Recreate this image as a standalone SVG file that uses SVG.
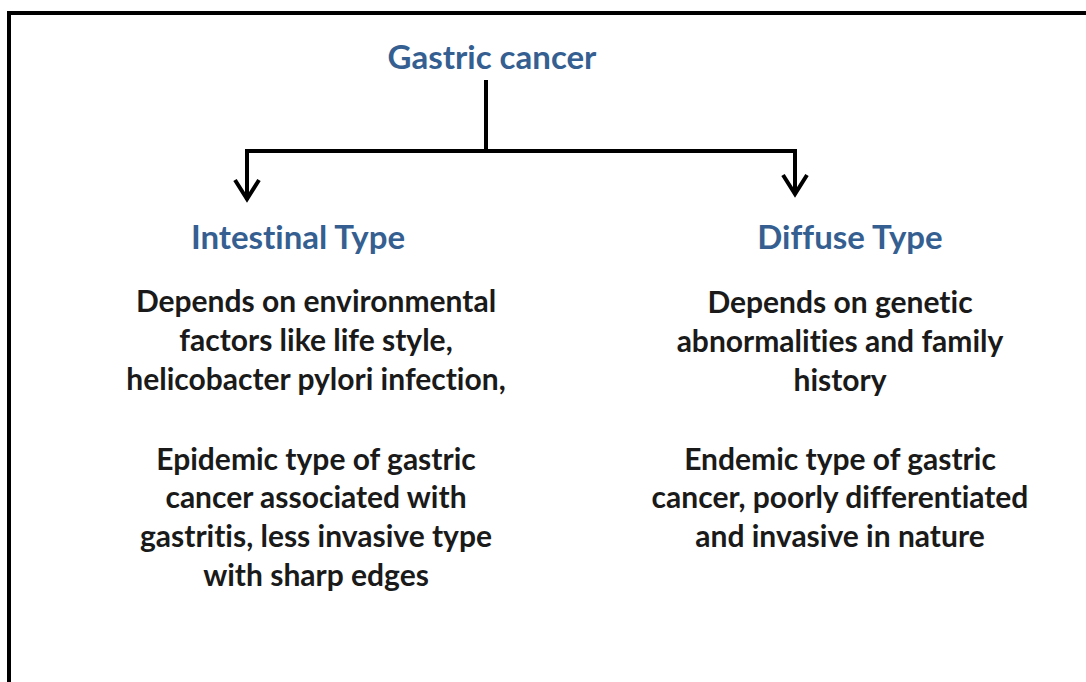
<svg xmlns="http://www.w3.org/2000/svg" width="1086" height="682" viewBox="0 0 1086 682">
  <style>
    text { font-variant-ligatures: none; font-feature-settings: "liga" 0, "dlig" 0; }
    .title { font-family: Lato, "Liberation Sans", sans-serif; font-weight: bold; font-size: 33px; fill: #365F91; text-anchor: middle; }
    .body { font-family: Lato, "Liberation Sans", sans-serif; font-weight: bold; font-size: 30px; fill: #1a1a1a; text-anchor: middle; }
    .line { fill: none; stroke: #000; stroke-width: 4; }
  </style>
  <rect width="1086" height="682" fill="#fff"/>
  <path class="line" d="M9,682 V13 H1086"/>
  <g id="connectors">
    <path class="line" d="M486,80 V151"/>
    <path class="line" d="M245,151 H797"/>
    <path class="line" d="M247,151 V200"/>
    <path class="line" d="M795,151 V194"/>
    <path class="line" stroke-linejoin="miter" d="M235,180 L247,199 L259,180"/>
    <path class="line" stroke-linejoin="miter" d="M783,175 L795,194 L807,175"/>
  </g>
  <g id="root">
    <text class="title" x="492" y="69">Gastric cancer</text>
  </g>
  <g id="intestinal">
    <text class="title" x="298" y="249">Intestinal Type</text>
    <text class="body" x="316" y="312">Depends on environmental</text>
    <text class="body" x="316" y="351">factors like life style,</text>
    <text class="body" x="316" y="390">helicobacter pylori infection,</text>
    <text class="body" x="316" y="470">Epidemic type of gastric</text>
    <text class="body" x="316" y="508">cancer associated with</text>
    <text class="body" x="316" y="547">gastritis, less invasive type</text>
    <text class="body" x="316" y="586">with sharp edges</text>
  </g>
  <g id="diffuse">
    <text class="title" x="850" y="249">Diffuse Type</text>
    <text class="body" x="840" y="313">Depends on genetic</text>
    <text class="body" x="840" y="352">abnormalities and family</text>
    <text class="body" x="840" y="391">history</text>
    <text class="body" x="840" y="470">Endemic type of gastric</text>
    <text class="body" x="840" y="508">cancer, poorly differentiated</text>
    <text class="body" x="840" y="547">and invasive in nature</text>
  </g>
</svg>
